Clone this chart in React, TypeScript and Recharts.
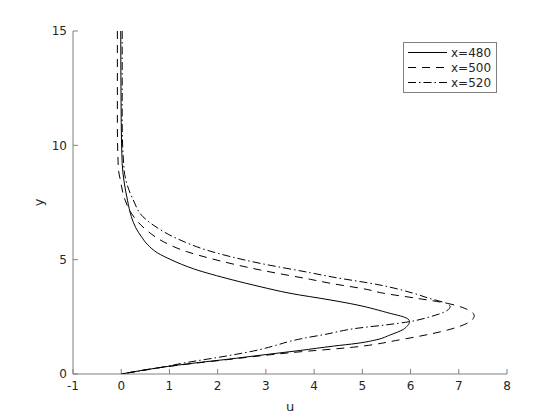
import {
  ScatterChart,
  Scatter,
  XAxis,
  YAxis,
  Legend,
} from "recharts";

// profiles u(y) at three stations
// each list runs from the wall (y=0) up to y=15
const y480 = [0, 0.28, 0.5, 0.64, 0.85, 1.03, 1.22, 1.34, 1.5, 1.71, 1.95, 2.12, 2.29, 2.4, 2.5, 2.65, 3.02, 3.24, 3.53, 3.82, 4.12, 4.6, 5.0, 5.3, 5.65, 6.0, 6.4, 6.88, 7.6, 8.4, 9.2, 11, 15];
const u480 = [0, 0.8, 1.6, 2.19, 3.0, 3.71, 4.4, 4.89, 5.3, 5.58, 5.85, 5.94, 5.98, 5.95, 5.85, 5.58, 4.89, 4.33, 3.5, 2.88, 2.3, 1.5, 1.03, 0.75, 0.55, 0.42, 0.3, 0.21, 0.13, 0.06, 0.02, 0.0, -0.01];

const y500 = [0, 0.28, 0.63, 0.93, 1.19, 1.5, 1.63, 1.92, 2.25, 2.55, 2.8, 3.09, 3.31, 3.56, 3.67, 3.97, 4.14, 4.55, 5.06, 5.35, 5.79, 6.3, 7.03, 7.61, 8.5, 9.0, 11, 15];
const u500 = [0, 0.8, 2.2, 3.5, 4.89, 5.79, 6.13, 6.76, 7.2, 7.32, 7.2, 6.76, 6.13, 5.37, 5.16, 4.33, 3.92, 2.88, 1.84, 1.36, 0.87, 0.52, 0.21, 0.08, -0.02, -0.06, -0.08, -0.08];

const y520 = [0, 0.28, 0.5, 0.79, 1.07, 1.25, 1.43, 1.57, 1.72, 2.0, 2.15, 2.29, 2.5, 2.78, 2.95, 3.08, 3.3, 3.53, 3.89, 4.26, 4.43, 4.84, 5.42, 5.93, 6.52, 6.88, 7.61, 8.3, 8.92, 11, 15];
const u520 = [0, 0.8, 1.35, 2.19, 2.88, 3.2, 3.5, 3.8, 4.2, 4.89, 5.5, 5.98, 6.4, 6.76, 6.82, 6.76, 6.4, 6.06, 5.37, 4.33, 3.92, 2.88, 1.77, 1.15, 0.66, 0.45, 0.25, 0.12, 0.06, 0.02, 0.02];

const uTicks = [-1, 0, 1, 2, 3, 4, 5, 6, 7, 8];
const yTicks = [0, 5, 10, 15];

const FRAME = "#808080";
const TEXT = "#262626";

const series = [
  { name: "x=480", u: u480, y: y480, dash: undefined },
  { name: "x=500", u: u500, y: y500, dash: "8 6" },
  { name: "x=520", u: u520, y: y520, dash: "8 3 1.5 3" },
].map((s) => ({
  ...s,
  // reversed so the path runs top-down (monotone in screen y)
  data: s.u.map((u, i) => ({ u, y: s.y[i] })).reverse(),
}));

function LegendBox() {
  return (
    <svg width={95} height={52} style={{ display: "block" }}>
      <rect x={0.5} y={0.5} width={93} height={50} fill="#fff" stroke={FRAME} />
      {series.map((s, i) => (
        <g key={s.name}>
          <line
            x1={5}
            x2={44}
            y1={10.5 + i * 15}
            y2={10.5 + i * 15}
            stroke="#000"
            strokeDasharray={s.dash}
          />
          <text
            x={48}
            y={10.5 + i * 15}
            dominantBaseline="central"
            fontSize={12}
            fill={TEXT}
          >
            {s.name}
          </text>
        </g>
      ))}
    </svg>
  );
}

const noDot = () => <g />;

export default function App() {
  return (
    <div style={{ position: "absolute", left: 0, top: 0 }}>
      <ScatterChart
        width={560}
        height={420}
        margin={{ top: 31, right: 53, bottom: 0, left: 0 }}
        style={{ fontFamily: "DejaVu Sans" }}
      >
        <XAxis
          type="number"
          dataKey="u"
          domain={[-1, 8]}
          ticks={uTicks}
          allowDataOverflow
          height={46}
          stroke={FRAME}
          tickSize={-5}
          tickMargin={12}
          tick={{ fill: TEXT, fontSize: 12 }}
          label={{ value: "u", position: "insideBottom", offset: 9, fill: TEXT, fontSize: 13 }}
        />
        <XAxis
          xAxisId="top"
          orientation="top"
          type="number"
          domain={[-1, 8]}
          ticks={uTicks}
          allowDataOverflow
          height={0}
          stroke={FRAME}
          tickSize={-5}
          tick={false}
        />
        <YAxis
          type="number"
          dataKey="y"
          domain={[0, 15]}
          ticks={yTicks}
          allowDataOverflow
          width={73}
          stroke={FRAME}
          tickSize={-5}
          tickMargin={11}
          tick={{ fill: TEXT, fontSize: 12 }}
          label={{ value: "y", angle: -90, position: "insideLeft", offset: 38, textAnchor: "middle", fill: TEXT, fontSize: 13 }}
        />
        <YAxis
          yAxisId="right"
          orientation="right"
          type="number"
          domain={[0, 15]}
          ticks={yTicks}
          allowDataOverflow
          width={0}
          stroke={FRAME}
          tickSize={-5}
          tick={false}
        />
        <Legend
          layout="vertical"
          align="center"
          verticalAlign="middle"
          wrapperStyle={{ left: 403, top: 42, width: 95 }}
          content={() => <LegendBox />}
        />
        {series.map((s) => (
          <Scatter
            key={s.name}
            name={s.name}
            data={s.data}
            fill="#000"
            shape={noDot}
            line={{ stroke: "#000", strokeWidth: 1, strokeDasharray: s.dash }}
            lineJointType="monotoneY"
            isAnimationActive={false}
          />
        ))}
      </ScatterChart>
    </div>
  );
}
